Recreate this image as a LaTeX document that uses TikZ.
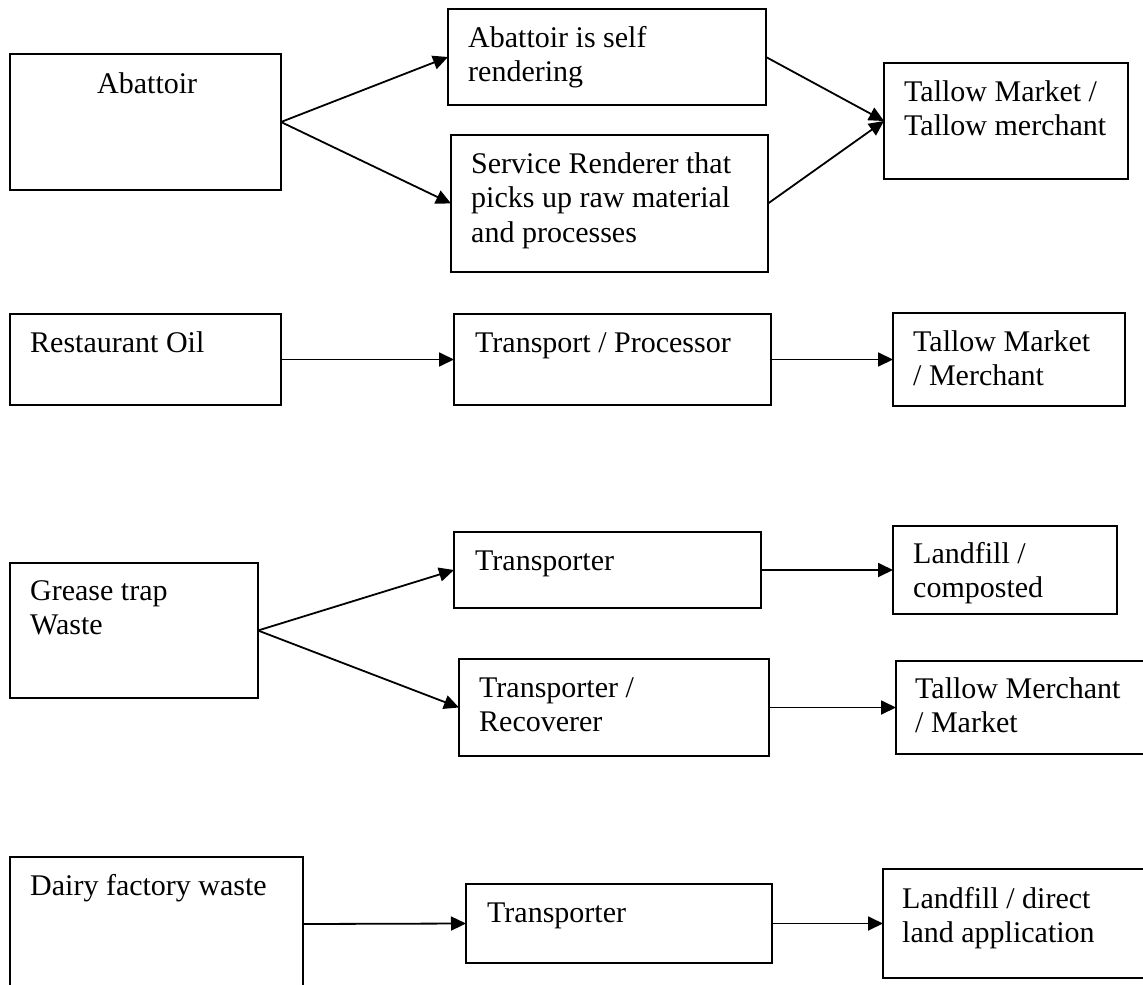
\documentclass[tikz,border=0pt]{standalone}
\usepackage{fontspec}
\setmainfont{Liberation Serif}
\usetikzlibrary{arrows.meta}
\tikzset{
  box/.style={draw=black, line width=1.7pt, rectangle, inner sep=0pt, outer sep=0pt, anchor=north west},
  lbl/.style={anchor=base west, inner sep=0pt, font=\fontsize{30}{34.5}\selectfont},
  flow/.style={line width=1.8pt, -{Triangle[length=15pt,width=14pt]}}
}
\begin{document}
\begin{tikzpicture}[x=1pt,y=-1pt]
\useasboundingbox (0,0) rectangle (1143,985);
\clip (0,0) rectangle (1143,985);
\fill[white] (0,0) rectangle (1143,985);
% row 1
\node[box, minimum width=271pt, minimum height=136pt] (A1) at (10,54) {};
\node[box, minimum width=318pt, minimum height=96pt] (A2) at (448,9) {};
\node[box, minimum width=317pt, minimum height=137pt] (A3) at (451,135) {};
\node[box, minimum width=244pt, minimum height=116pt] (A4) at (884,63) {};
\node[lbl] (tA1) at (97,93) {Abattoir};
\node[lbl] (tA2) at (468,47) {\vtop{\hbox{Abattoir is self}\hbox{rendering}}};
\node[lbl] (tA3) at (471,173) {\vtop{\hbox{Service Renderer that}\hbox{picks up raw material}\hbox{and processes}}};
\node[lbl] (tA4) at (904,101) {\vtop{\hbox{Tallow Market /}\hbox{Tallow merchant}}};
% row 2
\node[box, minimum width=271pt, minimum height=91pt] (R1) at (10,314) {};
\node[box, minimum width=317pt, minimum height=91pt] (R2) at (454,314) {};
\node[box, minimum width=232pt, minimum height=93pt] (R3) at (893,313) {};
\node[lbl] (tR1) at (30,352) {Restaurant Oil};
\node[lbl] (tR2) at (475,352) {Transport / Processor};
\node[lbl] (tR3) at (913,351) {\vtop{\hbox{Tallow Market}\hbox{/ Merchant}}};
% row 3
\node[box, minimum width=248pt, minimum height=135pt] (G1) at (10,563) {};
\node[box, minimum width=307pt, minimum height=76pt] (G2) at (454,532) {};
\node[box, minimum width=224pt, minimum height=88pt] (G3) at (893,526) {};
\node[box, minimum width=310pt, minimum height=97pt] (G4) at (459,659) {};
\node[box, minimum width=264pt, minimum height=93pt] (G5) at (896,661) {};
\node[lbl] (tG1) at (30,600) {\vtop{\hbox{Grease trap}\hbox{Waste}}};
\node[lbl] (tG2) at (475,570) {Transporter};
\node[lbl] (tG3) at (913,563) {\vtop{\hbox{Landfill /}\hbox{composted}}};
\node[lbl] (tG4) at (479,697) {\vtop{\hbox{Transporter /}\hbox{Recoverer}}};
\node[lbl] (tG5) at (915,698) {\vtop{\hbox{Tallow Merchant}\hbox{/ Market}}};
% row 4
\node[box, minimum width=293pt, minimum height=134pt] (D1) at (10,857) {};
\node[box, minimum width=306pt, minimum height=79pt] (D2) at (466,884) {};
\node[box, minimum width=277pt, minimum height=109pt] (D3) at (883,869) {};
\node[lbl] (tD1) at (30,895) {Dairy factory waste};
\node[lbl] (tD2) at (487,922) {Transporter};
\node[lbl] (tD3) at (902,908) {\vtop{\hbox{Landfill / direct}\hbox{land application}}};
% connectors
\draw[flow] (A1.east) -- (A2.west);
\draw[flow] (A1.east) -- (A3.west);
\draw[flow] (A2.east) -- (A4.west);
\draw[flow] (A3.east) -- (A4.west);
\draw[flow] (R1.east) -- (R2.west);
\draw[flow] (R2.east) -- (R3.west);
\draw[flow] (G1.east) -- (G2.west);
\draw[flow] (G1.east) -- (G4.west);
\draw[flow] (G2.east) -- (G3.west);
\draw[flow] (G4.east) -- (G5.west);
\draw[flow] (D1.east) -- (D2.west);
\draw[flow] (D2.east) -- (D3.west);
\end{tikzpicture}
\end{document}
